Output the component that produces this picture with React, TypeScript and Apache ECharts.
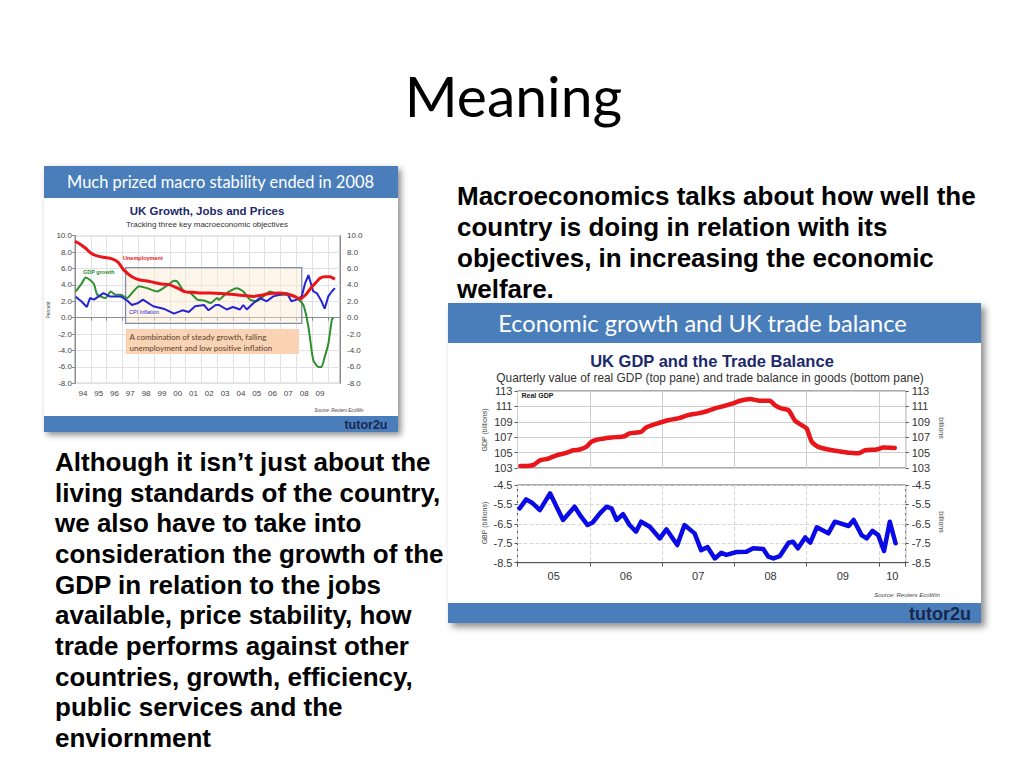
import React, { useEffect, useRef } from 'react';
import * as echarts from 'echarts';

// ---------- Left chart: UK Growth, Jobs and Prices ----------
const leftYearLabels = [1994.5, 1995.5, 1996.5, 1997.5, 1998.5, 1999.5, 2000.5, 2001.5, 2002.5, 2003.5, 2004.5, 2005.5, 2006.5, 2007.5, 2008.5, 2009.5];

const unemployment: [number, number][] = [
  [1994.0, 9.3], [1994.3, 9.0], [1994.65, 8.5], [1995.0, 7.9], [1995.3, 7.6], [1995.7, 7.4], [1996.0, 7.3],
  [1996.3, 7.2], [1996.7, 6.8], [1997.1, 5.8], [1997.6, 5.0], [1998.1, 4.6], [1998.5, 4.5], [1999.0, 4.3],
  [1999.5, 4.1], [2000.0, 4.0], [2000.5, 3.6], [2001.0, 3.15], [2001.5, 3.1], [2002.0, 3.0], [2002.5, 3.0],
  [2003.1, 2.95], [2003.6, 2.9], [2004.2, 2.8], [2004.7, 2.7], [2005.3, 2.6], [2005.8, 2.75], [2006.34, 2.95],
  [2006.9, 3.0], [2007.4, 2.9], [2007.8, 2.7], [2008.24, 2.3], [2008.6, 2.8], [2008.98, 3.75], [2009.25, 4.3],
  [2009.5, 4.8], [2009.8, 5.0], [2010.14, 5.0], [2010.3, 4.85], [2010.45, 4.7],
];

const gdpGrowth: [number, number][] = [
  [1994.04, 3.2], [1994.4, 4.1], [1994.67, 4.9], [1994.95, 4.6], [1995.2, 4.1], [1995.41, 2.8], [1995.94, 2.4],
  [1996.26, 3.2], [1996.57, 2.8], [1996.89, 2.8], [1997.3, 2.4], [1997.65, 3.1], [1998.05, 3.85], [1998.58, 3.6],
  [1999.2, 3.2], [1999.84, 3.95], [2000.27, 4.5], [2000.48, 4.4], [2000.9, 3.2], [2001.32, 3.0], [2001.74, 2.2],
  [2002.16, 2.1], [2002.59, 1.8], [2003.0, 2.4], [2003.1, 2.2], [2003.6, 3.0], [2004.23, 3.6], [2004.65, 3.2],
  [2005.08, 2.2], [2005.5, 2.0], [2005.92, 2.6], [2006.34, 3.2], [2006.97, 2.8], [2007.4, 2.8], [2008.03, 2.4],
  [2008.45, 1.55], [2008.77, -1.1], [2009.08, -5.2], [2009.4, -6.0], [2009.6, -6.0], [2009.8, -4.8],
  [2010.03, -3.2], [2010.25, -0.3], [2010.35, 0.0],
];

const cpiInflation: [number, number][] = [
  [1994.04, 2.55], [1994.4, 2.0], [1994.75, 1.3], [1994.95, 2.4], [1995.2, 2.2], [1995.5, 2.6], [1995.8, 3.0],
  [1996.2, 2.6], [1996.89, 2.6], [1997.3, 2.1], [1997.6, 1.55], [1998.0, 1.8], [1998.3, 2.2], [1998.95, 1.4],
  [1999.6, 1.1], [2000.27, 0.5], [2000.8, 0.9], [2001.2, 0.7], [2001.6, 1.4], [2002.16, 1.55], [2002.45, 0.9],
  [2002.9, 1.55], [2003.1, 1.55], [2003.6, 1.0], [2004.0, 1.3], [2004.44, 1.0], [2004.65, 1.55], [2004.87, 1.0],
  [2005.3, 1.8], [2005.7, 2.4], [2006.13, 2.0], [2006.55, 2.6], [2006.97, 2.8], [2007.4, 3.0], [2007.7, 2.0],
  [2008.03, 2.2], [2008.35, 2.6], [2008.56, 4.2], [2008.77, 5.2], [2009.08, 3.2], [2009.3, 3.0], [2009.6, 2.0],
  [2009.8, 1.1], [2010.03, 2.6], [2010.25, 3.2], [2010.45, 3.6],
];

const stablePeriod: [number, number, number, number] = [1997.2, 6.1, 2008.35, -0.7];

// ---------- Right chart: UK GDP and the Trade Balance ----------
const rightYearLabels = [2005.5, 2006.5, 2007.5, 2008.5, 2009.5, 2010.185];

const realGdp: [number, number][] = [
  [2005.04, 103.26], [2005.17, 103.3], [2005.24, 103.5], [2005.31, 104.0], [2005.42, 104.2], [2005.54, 104.65],
  [2005.67, 104.96], [2005.77, 105.3], [2005.86, 105.4], [2005.95, 105.74], [2006.02, 106.4], [2006.11, 106.7],
  [2006.3, 106.96], [2006.48, 107.13], [2006.55, 107.5], [2006.71, 107.7], [2006.78, 108.26], [2006.94, 108.8],
  [2007.08, 109.2], [2007.22, 109.44], [2007.36, 109.87], [2007.5, 110.1], [2007.63, 110.4], [2007.75, 110.8],
  [2007.85, 111.04], [2007.98, 111.4], [2008.08, 111.74], [2008.22, 111.96], [2008.35, 111.74], [2008.49, 111.74],
  [2008.56, 111.17], [2008.65, 110.74], [2008.75, 110.5], [2008.84, 109.13], [2008.93, 108.57], [2009.0, 108.13],
  [2009.07, 106.4], [2009.16, 105.74], [2009.3, 105.4], [2009.51, 105.09], [2009.71, 104.9], [2009.81, 105.3],
  [2009.97, 105.4], [2010.06, 105.65], [2010.22, 105.6],
];

const tradeBalance: [number, number][] = [
  [2005.03, -5.7], [2005.12, -5.24], [2005.2, -5.41], [2005.31, -5.79], [2005.45, -4.93], [2005.63, -6.3],
  [2005.79, -5.62], [2005.88, -6.13], [2005.97, -6.56], [2006.04, -6.43], [2006.14, -5.96], [2006.23, -5.62],
  [2006.3, -5.7], [2006.37, -6.3], [2006.46, -6.0], [2006.55, -6.56], [2006.64, -6.9], [2006.71, -6.39],
  [2006.83, -6.65], [2006.97, -7.25], [2007.06, -6.78], [2007.21, -7.59], [2007.31, -6.56], [2007.45, -6.99],
  [2007.54, -7.85], [2007.63, -7.7], [2007.73, -8.28], [2007.82, -7.99], [2007.89, -8.1], [2008.03, -7.95],
  [2008.17, -7.93], [2008.26, -7.76], [2008.4, -7.8], [2008.47, -8.19], [2008.54, -8.28], [2008.63, -8.16],
  [2008.75, -7.47], [2008.81, -7.42], [2008.88, -7.76], [2008.98, -7.2], [2009.05, -7.47], [2009.14, -6.68],
  [2009.3, -6.99], [2009.39, -6.39], [2009.58, -6.61], [2009.65, -6.3], [2009.76, -7.08], [2009.83, -7.25],
  [2009.91, -6.86], [2009.99, -7.08], [2010.07, -7.9], [2010.15, -6.39], [2010.23, -7.5],
];

// ---------- Slide text ----------
const slideTitle = 'Meaning';
const rightParagraph = [
  'Macroeconomics talks about how well the',
  'country is doing in relation with its',
  'objectives, in increasing the economic',
  'welfare.',
];
const leftParagraph = [
  'Although it isn\u2019t just about the',
  'living standards of the country,',
  'we also have to take into',
  'consideration the growth of the',
  'GDP in relation to the jobs',
  'available, price stability, how',
  'trade performs against other',
  'countries, growth, efficiency,',
  'public services and the',
  'enviornment',
];

const ARIAL = '"Liberation Sans", Arial, sans-serif';
const CAL = 'Lato, "Open Sans", sans-serif';
const BAND = '#4a7ebb';
const NAVY = '#1c2a6b';

const yearFmt = (v: number) => String(Math.floor(v + 1e-6) % 100).padStart(2, '0');

function buildOption() {
  const txt = (x: number, y: number, text: string, s: any = {}, extra: any = {}) => ({
    type: 'text', x, y, z: 20, silent: true, ...extra,
    style: { text, fill: '#222', fontFamily: ARIAL, fontSize: 10, align: 'left', verticalAlign: 'middle', ...s },
  });
  const rect = (x: number, y: number, w: number, h: number, style: any, z = -10) => ({
    type: 'rect', z, silent: true, shape: { x, y, width: w, height: h }, style,
  });

  const graphics: any[] = [
    // title
    txt(513.5, 95, slideTitle, { fontFamily: CAL, fontSize: 57, fill: '#000', align: 'center' }),
    // paragraphs
    txt(457, 180, rightParagraph.join('\n'), { fontSize: 26, fontWeight: 'bold', fill: '#000', lineHeight: 31, verticalAlign: 'top' }),
    txt(55, 446.5, leftParagraph.join('\n'), { fontSize: 26, fontWeight: 'bold', fill: '#000', lineHeight: 30.67, verticalAlign: 'top' }),

    // left panel
    rect(44, 166, 354, 266, { fill: '#fff', shadowBlur: 6, shadowColor: 'rgba(0,0,0,0.45)', shadowOffsetX: 3, shadowOffsetY: 3 }, -12),
    rect(44, 166, 354, 32, { fill: BAND }, -11),
    rect(44, 416, 354, 16, { fill: BAND }, -11),
    txt(220.5, 181.5, 'Much prized macro stability ended in 2008', { fontFamily: CAL, fontSize: 16.4, fill: '#fff', align: 'center' }),
    txt(207, 211, 'UK Growth, Jobs and Prices', { fontSize: 11.5, fontWeight: 'bold', fill: NAVY, align: 'center' }),
    txt(207, 224.5, 'Tracking three key macroeconomic objectives', { fontSize: 8, fill: '#333', align: 'center' }),
    txt(48, 310, 'Percent', { fontSize: 5, fill: '#444', align: 'center' }, { rotation: Math.PI / 2 }),
    txt(123, 258, 'Unemployment', { fontSize: 5.5, fill: '#e0161b', fontWeight: 'bold' }),
    txt(83, 272, 'GDP growth', { fontSize: 5.5, fill: '#2e8b2e', fontWeight: 'bold' }),
    txt(129, 311.5, 'CPI Inflation', { fontSize: 5.5, fill: '#2a2ad0' }),
    rect(125.7, 329, 173.3, 25, { fill: '#f9d3b4' }, 5),
    txt(129.5, 336.5, 'A combination of steady growth, falling', { fontFamily: CAL, fontSize: 8, fill: '#5a4030' }),
    txt(129.5, 347.5, 'unemployment and low positive inflation', { fontFamily: CAL, fontSize: 8, fill: '#5a4030' }),
    txt(339, 410.5, 'Source: Reuters EcoWin', { fontSize: 4.5, fill: '#444', align: 'center', fontStyle: 'italic' }),
    txt(387.5, 425, 'tutor2u', { fontSize: 12.5, fontWeight: 'bold', fill: '#17284e', align: 'right' }),

    // right panel
    rect(448, 303, 533, 320, { fill: '#fff', shadowBlur: 7, shadowColor: 'rgba(0,0,0,0.45)', shadowOffsetX: 4, shadowOffsetY: 4 }, -12),
    rect(448, 303, 533, 40, { fill: BAND }, -11),
    rect(448, 603, 533, 20, { fill: BAND }, -11),
    txt(702.5, 322.5, 'Economic growth and UK trade balance', { fontFamily: CAL, fontSize: 23.6, fill: '#fff', align: 'center' }),
    txt(712, 361, 'UK GDP and the Trade Balance', { fontSize: 16.5, fontWeight: 'bold', fill: NAVY, align: 'center' }),
    txt(710, 377.5, 'Quarterly value of real GDP (top pane) and trade balance in goods (bottom pane)', { fontSize: 11.9, fill: '#333', align: 'center' }),
    txt(521.5, 395.5, 'Real GDP', { fontSize: 7, fontWeight: 'bold', fill: '#222' }),
    txt(484, 430, 'GDP (billions)', { fontSize: 7, fill: '#444', align: 'center' }, { rotation: Math.PI / 2 }),
    txt(484, 523, 'GBP (billions)', { fontSize: 7, fill: '#444', align: 'center' }, { rotation: Math.PI / 2 }),
    txt(941, 428, 'billions', { fontSize: 7, fill: '#444', align: 'center' }, { rotation: -Math.PI / 2 }),
    txt(941, 522, 'billions', { fontSize: 7, fill: '#444', align: 'center' }, { rotation: -Math.PI / 2 }),
    txt(907, 595, 'Source: Reuters EcoWin', { fontSize: 6, fill: '#444', align: 'center', fontStyle: 'italic' }),
    txt(971, 614, 'tutor2u', { fontSize: 18, fontWeight: 'bold', fill: '#17284e', align: 'right' }),
  ];

  const lblL = { fontFamily: ARIAL, fontSize: 8, color: '#444' };
  const lblR = { fontFamily: ARIAL, fontSize: 11, color: '#333' };

  return {
    animation: false,
    backgroundColor: '#ffffff',
    graphic: { elements: graphics },
    grid: [
      { left: 75, top: 235.7, width: 265, height: 147.6, show: true, borderColor: '#8c8c8c', borderWidth: 1 },
      { left: 517.5, top: 391, width: 388.2, height: 77, show: true, borderColor: '#555', borderWidth: 1 },
      { left: 517.5, top: 485, width: 388.2, height: 77.7, show: true, borderColor: '#555', borderWidth: 1 },
    ],
    xAxis: [
      {
        gridIndex: 0, type: 'value', min: 1994, max: 2010.77, interval: 1,
        axisLine: { show: true, lineStyle: { color: '#8c8c8c' } },
        axisTick: { show: true, length: 3, lineStyle: { color: '#8c8c8c' } },
        axisLabel: { ...lblL, margin: 6, customValues: leftYearLabels, formatter: yearFmt },
        splitLine: { show: true, lineStyle: { color: '#e2e2e2' } },
      },
      {
        gridIndex: 1, type: 'value', min: 2005, max: 2010.37, interval: 1,
        axisLine: { show: false }, axisTick: { show: false }, axisLabel: { show: false },
        splitLine: { show: true, lineStyle: { color: '#cfcfcf' } },
      },
      {
        gridIndex: 2, type: 'value', min: 2005, max: 2010.37, interval: 1,
        axisLine: { show: true, lineStyle: { color: '#555' } },
        axisTick: { show: true, length: 4, lineStyle: { color: '#555' } },
        axisLabel: { ...lblR, margin: 8, customValues: rightYearLabels, formatter: yearFmt },
        splitLine: { show: true, lineStyle: { color: '#d6d6d6', type: 'dashed' } },
      },
    ],
    yAxis: [
      {
        gridIndex: 0, type: 'value', min: -8, max: 10, interval: 2, position: 'left',
        axisLine: { show: true, lineStyle: { color: '#8c8c8c' } },
        axisTick: { show: true, length: 3, lineStyle: { color: '#8c8c8c' } },
        axisLabel: { ...lblL, margin: 3, formatter: (v: number) => v.toFixed(1) },
        splitLine: { show: true, lineStyle: { color: '#e2e2e2' } },
      },
      {
        gridIndex: 0, type: 'value', min: -8, max: 10, interval: 2, position: 'right',
        axisLine: { show: true, lineStyle: { color: '#8c8c8c' } },
        axisTick: { show: false },
        axisLabel: { ...lblL, margin: 7, formatter: (v: number) => v.toFixed(1) },
        splitLine: { show: false },
      },
      {
        gridIndex: 1, type: 'value', min: 103, max: 113, interval: 2, position: 'left',
        axisLine: { show: false }, axisTick: { show: true, length: 3, lineStyle: { color: '#555' } },
        axisLabel: { ...lblR, margin: 5 },
        splitLine: { show: true, lineStyle: { color: '#cfcfcf' } },
      },
      {
        gridIndex: 1, type: 'value', min: 103, max: 113, interval: 2, position: 'right',
        axisLine: { show: false }, axisTick: { show: true, length: 3, lineStyle: { color: '#555' } },
        axisLabel: { ...lblR, margin: 6 },
        splitLine: { show: false },
      },
      {
        gridIndex: 2, type: 'value', min: -8.5, max: -4.5, interval: 1, position: 'left',
        axisLine: { show: false }, axisTick: { show: true, length: 3, lineStyle: { color: '#555' } },
        axisLabel: { ...lblR, margin: 5, formatter: (v: number) => v.toFixed(1) },
        splitLine: { show: true, lineStyle: { color: '#d6d6d6', type: 'dashed' } },
      },
      {
        gridIndex: 2, type: 'value', min: -8.5, max: -4.5, interval: 1, position: 'right',
        axisLine: { show: false }, axisTick: { show: true, length: 3, lineStyle: { color: '#555' } },
        axisLabel: { ...lblR, margin: 6, formatter: (v: number) => v.toFixed(1) },
        splitLine: { show: false },
      },
    ],
    series: [
      {
        name: 'Stable period', type: 'line', xAxisIndex: 0, yAxisIndex: 0, data: [], z: 1, silent: true,
        markArea: {
          silent: true,
          itemStyle: { color: 'rgba(252,232,210,0.45)', borderColor: '#7f8ea6', borderWidth: 1.3 },
          data: [[{ coord: [stablePeriod[0], stablePeriod[1]] }, { coord: [stablePeriod[2], stablePeriod[3]] }]],
        },
      },
      {
        name: 'GDP growth', type: 'line', xAxisIndex: 0, yAxisIndex: 0, data: gdpGrowth, showSymbol: false, z: 3,
        lineStyle: { color: '#2e8f2e', width: 2 }, smooth: 0.2,
      },
      {
        name: 'CPI Inflation', type: 'line', xAxisIndex: 0, yAxisIndex: 0, data: cpiInflation, showSymbol: false, z: 3,
        lineStyle: { color: '#2424d6', width: 2 },
      },
      {
        name: 'Unemployment', type: 'line', xAxisIndex: 0, yAxisIndex: 0, data: unemployment, showSymbol: false, z: 4,
        lineStyle: { color: '#e8161b', width: 3 }, smooth: 0.3,
      },
      {
        name: 'Real GDP', type: 'line', xAxisIndex: 1, yAxisIndex: 2, data: realGdp, showSymbol: false, z: 3,
        lineStyle: { color: '#e8161b', width: 4.5, cap: 'round', join: 'round' }, smooth: 0.2,
      },
      {
        name: 'Trade balance', type: 'line', xAxisIndex: 2, yAxisIndex: 4, data: tradeBalance, showSymbol: false, z: 3,
        lineStyle: { color: '#0a0ae6', width: 4.5, cap: 'round', join: 'round' },
      },
    ],
  };
}

export default function App() {
  const ref = useRef<HTMLDivElement>(null);
  useEffect(() => {
    if (!ref.current) return;
    const chart = echarts.init(ref.current, undefined, { renderer: 'svg' });
    chart.setOption(buildOption() as any);
    return () => chart.dispose();
  }, []);
  return (
    <div
      ref={ref}
      style={{ position: 'absolute', left: 0, top: 0, width: 1024, height: 768, background: '#fff' }}
    />
  );
}
